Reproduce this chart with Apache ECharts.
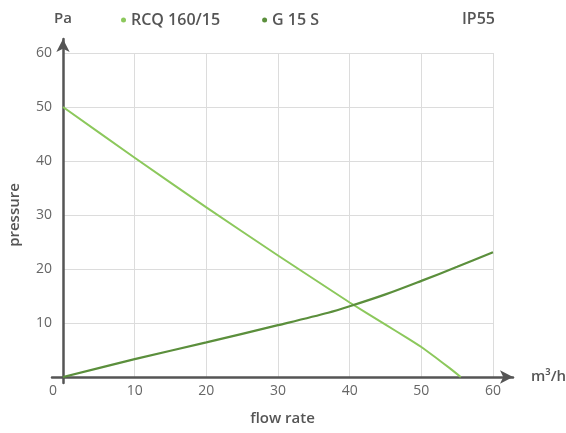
<!DOCTYPE html>
<html>
<head>
<meta charset="utf-8">
<script src="https://cdn.jsdelivr.net/npm/echarts@6/dist/echarts.min.js"></script>
<style>html,body{margin:0;padding:0;background:#fff}#c{width:566px;height:433px}</style>
</head>
<body>
<div id="c"></div>
<script>
const seriesNames = ['RCQ 160/15', 'G 15 S'];
const rcqData = [[0, 50], [10, 40.6], [20, 31.4], [30, 22.5], [40, 13.8], [45, 9.7], [48, 7.25], [50, 5.55], [52, 3.6], [54, 1.6], [55.5, 0]];
const g15sData = [[0, 0], [10, 3.3], [20, 6.4], [30, 9.6], [37, 11.9], [40, 13.1], [45, 15.3], [50, 17.8], [55, 20.4], [60, 23.1]];
const xTicks = [0, 10, 20, 30, 40, 50, 60];
const yTicks = [0, 10, 20, 30, 40, 50, 60];

const FONT = '"Open Sans", Lato, sans-serif';
const axisColor = '#555';
const chart = echarts.init(document.getElementById('c'), null, { renderer: 'canvas' });
chart.setOption({
  animation: false,
  textStyle: { fontFamily: FONT },
  title: {
    text: 'IP55', right: 66, top: 6,
    textStyle: { fontFamily: FONT, fontSize: 16, fontWeight: 600, color: '#555' }
  },
  legend: {
    data: seriesNames, left: 116, top: 7, icon: 'circle', itemWidth: 5, itemHeight: 5, itemGap: 42,
    textStyle: { fontFamily: FONT, fontSize: 16, fontWeight: 600, color: '#555' }
  },
  grid: [
    { left: 63, right: 73, top: 53, bottom: 56, containLabel: false, outerBoundsMode: 'none' },
    { left: 52, right: 53, top: 53, bottom: 56, containLabel: false, outerBoundsMode: 'none' },
    { left: 63, right: 73, top: 39, bottom: 50, containLabel: false, outerBoundsMode: 'none' }
  ],
  xAxis: [
    {
      type: 'value', gridIndex: 0, min: xTicks[0], max: xTicks[xTicks.length - 1], interval: 10,
      axisLine: { show: false }, axisTick: { show: false },
      splitLine: { show: true, lineStyle: { color: '#dcdcdc', width: 1 } },
      axisLabel: {
        color: '#666', fontSize: 14, margin: 7, fontFamily: FONT,
        formatter: v => v === 0 ? '{z|0}' : String(v),
        rich: { z: { padding: [0, 20, 0, 0], color: '#666', fontSize: 14, fontFamily: FONT } }
      },
      name: 'm³/h', nameLocation: 'end', nameGap: 38,
      nameTextStyle: { color: '#555', fontSize: 15, fontWeight: 600, verticalAlign: 'middle', fontFamily: FONT }
    },
    {
      type: 'value', gridIndex: 1, min: 0, max: 1,
      axisLine: { show: true, symbol: ['none', 'arrow'], symbolSize: [10, 13], lineStyle: { color: axisColor, width: 2.5 } },
      axisTick: { show: false }, axisLabel: { show: false }, splitLine: { show: false },
      name: 'flow rate', nameLocation: 'middle', nameGap: 34,
      nameTextStyle: { color: '#555', fontSize: 15, fontWeight: 600, fontFamily: FONT }
    },
    {
      type: 'value', gridIndex: 2, min: 0, max: 1, show: false
    }
  ],
  yAxis: [
    {
      type: 'value', gridIndex: 0, min: yTicks[0], max: yTicks[yTicks.length - 1], interval: 10,
      axisLine: { show: false }, axisTick: { show: false },
      splitLine: { show: true, lineStyle: { color: '#dcdcdc', width: 1 } },
      axisLabel: { color: '#666', fontSize: 14, margin: 11, fontFamily: FONT, formatter: v => v === 0 ? '' : String(v) },
      name: 'pressure', nameLocation: 'middle', nameGap: 41, nameRotate: 90,
      nameTextStyle: { color: '#555', fontSize: 15, fontWeight: 600, fontFamily: FONT }
    },
    {
      type: 'value', gridIndex: 1, min: 0, max: 1, show: false
    },
    {
      type: 'value', gridIndex: 2, min: 0, max: 1,
      axisLine: { show: true, symbol: ['none', 'arrow'], symbolSize: [10, 13], lineStyle: { color: axisColor, width: 2.5 } },
      axisTick: { show: false }, axisLabel: { show: false }, splitLine: { show: false },
      name: 'Pa', nameLocation: 'end', nameGap: 13,
      nameTextStyle: { color: '#555', fontSize: 15, fontWeight: 600, fontFamily: FONT, align: 'center' }
    }
  ],
  series: [
    {
      name: seriesNames[0], type: 'line', xAxisIndex: 0, yAxisIndex: 0, data: rcqData,
      smooth: 0.1, showSymbol: false, symbol: 'none', color: '#8cc85c',
      lineStyle: { width: 2, color: '#8cc85c', join: 'round' }, z: 3
    },
    {
      name: seriesNames[1], type: 'line', xAxisIndex: 0, yAxisIndex: 0, data: g15sData,
      smooth: 0.3, showSymbol: false, symbol: 'none', color: '#5b8f3c',
      lineStyle: { width: 2.2, color: '#5b8f3c' }, z: 3
    }
  ]
});
</script>
</body>
</html>
